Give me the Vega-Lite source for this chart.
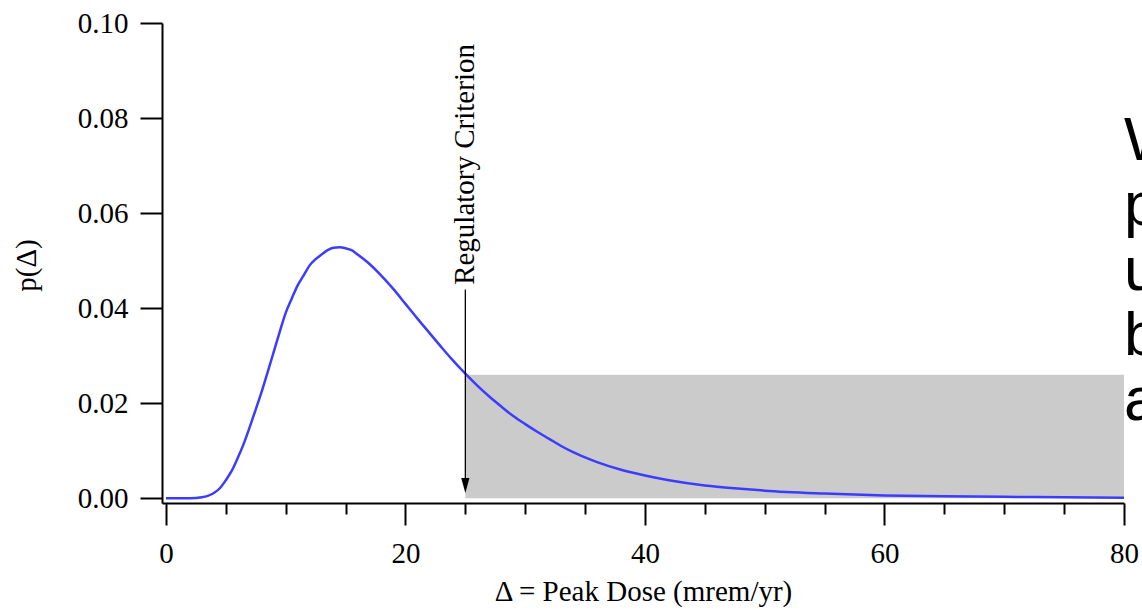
{
  "$schema": "https://vega.github.io/schema/vega-lite/v6.json",
  "width": 962,
  "height": 480,
  "autosize": {"type": "none"},
  "padding": {"left": 162, "top": 23, "right": 18, "bottom": 107},
  "background": "white",
  "config": {
    "view": {"stroke": null},
    "axis": {
      "grid": false,
      "domainColor": "black",
      "domainWidth": 2,
      "tickColor": "black",
      "tickWidth": 2,
      "labelFont": "Liberation Serif",
      "labelFontSize": 29,
      "labelColor": "black",
      "titleFont": "Liberation Serif",
      "titleFontSize": 29,
      "titleFontWeight": "normal",
      "titleColor": "black"
    }
  },
  "datasets": {
    "curve": [
      {"dose": 0, "p": 0}, {"dose": 1, "p": 0}, {"dose": 2, "p": 0},
      {"dose": 3, "p": 0.0002}, {"dose": 3.5, "p": 0.0005}, {"dose": 4, "p": 0.0011},
      {"dose": 4.5, "p": 0.0021}, {"dose": 5, "p": 0.0038}, {"dose": 5.5, "p": 0.0058},
      {"dose": 6, "p": 0.0085}, {"dose": 6.5, "p": 0.0115}, {"dose": 7, "p": 0.015},
      {"dose": 7.5, "p": 0.0187}, {"dose": 8, "p": 0.0225}, {"dose": 8.5, "p": 0.0266},
      {"dose": 9, "p": 0.0308}, {"dose": 9.5, "p": 0.035}, {"dose": 10, "p": 0.039},
      {"dose": 10.5, "p": 0.042}, {"dose": 11, "p": 0.0448}, {"dose": 11.5, "p": 0.0469},
      {"dose": 12, "p": 0.049}, {"dose": 12.5, "p": 0.0503}, {"dose": 13, "p": 0.0513},
      {"dose": 13.5, "p": 0.0522}, {"dose": 14, "p": 0.0527}, {"dose": 14.5, "p": 0.0528},
      {"dose": 15, "p": 0.0526}, {"dose": 15.5, "p": 0.0522}, {"dose": 16, "p": 0.0513},
      {"dose": 17, "p": 0.0493}, {"dose": 18, "p": 0.0468}, {"dose": 19, "p": 0.044},
      {"dose": 20, "p": 0.0409}, {"dose": 21, "p": 0.0378}, {"dose": 22, "p": 0.0348},
      {"dose": 23, "p": 0.0318}, {"dose": 24, "p": 0.0289}, {"dose": 25, "p": 0.0262},
      {"dose": 26, "p": 0.0237}, {"dose": 27, "p": 0.0214}, {"dose": 28, "p": 0.0193},
      {"dose": 29, "p": 0.0173}, {"dose": 30, "p": 0.0156}, {"dose": 31, "p": 0.014},
      {"dose": 32, "p": 0.0125}, {"dose": 33, "p": 0.011}, {"dose": 34, "p": 0.0097},
      {"dose": 35, "p": 0.0086}, {"dose": 36, "p": 0.0076}, {"dose": 38, "p": 0.006},
      {"dose": 40, "p": 0.0048}, {"dose": 42, "p": 0.0038}, {"dose": 45, "p": 0.0027},
      {"dose": 48, "p": 0.002}, {"dose": 50, "p": 0.0016}, {"dose": 55, "p": 0.001},
      {"dose": 60, "p": 0.0006}, {"dose": 65, "p": 0.0004}, {"dose": 70, "p": 0.0003},
      {"dose": 75, "p": 0.0002}, {"dose": 80, "p": 0.0001}
    ],
    "exceedance": [
      {"from": 25, "to": 80, "top": 0.026, "bottom": 0}
    ],
    "criterion": [
      {"dose": 25, "labelAt": 0.0449, "lineTop": 0.0439, "lineEnd": 0.0035, "head": 0.0027, "label": "Regulatory Criterion"}
    ],
    "note": [
      {"dose": 80, "p": 0.0712, "text": "W\np\nu\nb\na"}
    ]
  },
  "layer": [
    {
      "data": {"name": "exceedance"},
      "mark": {"type": "rect", "fill": "#cbcbcb"},
      "encoding": {
        "x": {
          "field": "from",
          "type": "quantitative",
          "scale": {"domain": [-0.33, 80], "nice": false, "zero": false},
          "axis": {
            "title": "Δ = Peak Dose (mrem/yr)",
            "values": [0, 5, 10, 15, 20, 25, 30, 35, 40, 45, 50, 55, 60, 65, 70, 75, 80],
            "tickSize": {"condition": {"test": "datum.value % 20 === 0", "value": 22}, "value": 11},
            "labelExpr": "datum.value % 20 === 0 ? datum.label : ''",
            "format": "d",
            "labelOverlap": false,
            "labelFlush": false,
            "labelPadding": 14,
            "titlePadding": 9
          }
        },
        "x2": {"field": "to"},
        "y": {
          "field": "top",
          "type": "quantitative",
          "scale": {"domain": [-0.001, 0.1], "nice": false, "zero": false},
          "axis": {
            "title": "p(Δ)",
            "values": [0, 0.02, 0.04, 0.06, 0.08, 0.1],
            "format": ".2f",
            "tickSize": 22,
            "labelPadding": 12,
            "titleAngle": 270,
            "titleAlign": "center",
            "titleBaseline": "middle",
            "titleX": -136,
            "titleY": 242
          }
        },
        "y2": {"field": "bottom"}
      }
    },
    {
      "data": {"name": "curve"},
      "mark": {"type": "line", "color": "#3c3cff", "strokeWidth": 2.5, "interpolate": "monotone"},
      "encoding": {
        "x": {"field": "dose", "type": "quantitative"},
        "y": {"field": "p", "type": "quantitative"}
      }
    },
    {
      "data": {"name": "criterion"},
      "mark": {"type": "rule", "color": "black", "strokeWidth": 1.3},
      "encoding": {
        "x": {"field": "dose", "type": "quantitative"},
        "y": {"field": "lineTop", "type": "quantitative"},
        "y2": {"field": "lineEnd"}
      }
    },
    {
      "data": {"name": "criterion"},
      "mark": {"type": "point", "shape": "M-0.55,-1L0.55,-1L0,1Z", "size": 225, "filled": true, "color": "black", "opacity": 1, "strokeWidth": 0},
      "encoding": {
        "x": {"field": "dose", "type": "quantitative"},
        "y": {"field": "head", "type": "quantitative"}
      }
    },
    {
      "data": {"name": "criterion"},
      "mark": {"type": "text", "angle": 270, "align": "left", "baseline": "middle", "font": "Liberation Serif", "fontSize": 29, "color": "black"},
      "encoding": {
        "x": {"field": "dose", "type": "quantitative"},
        "y": {"field": "labelAt", "type": "quantitative"},
        "text": {"field": "label"}
      }
    },
    {
      "data": {"name": "note"},
      "mark": {"type": "text", "align": "left", "baseline": "alphabetic", "font": "Liberation Sans", "fontSize": 62, "lineBreak": "\n", "lineHeight": 65, "color": "black"},
      "encoding": {
        "x": {"field": "dose", "type": "quantitative"},
        "y": {"field": "p", "type": "quantitative"},
        "text": {"field": "text"}
      }
    }
  ]
}
